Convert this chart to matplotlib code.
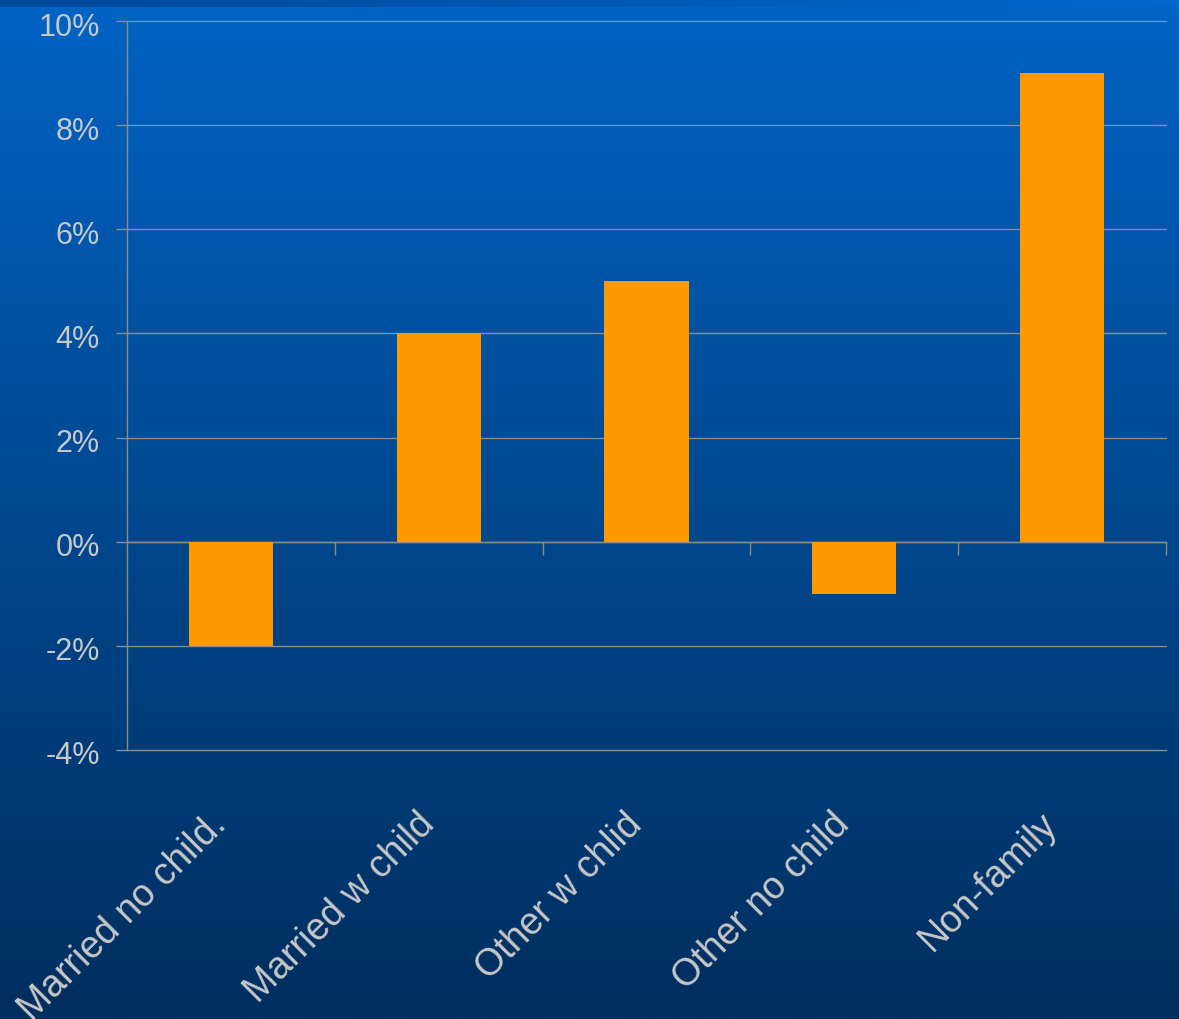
import numpy as np
import matplotlib
matplotlib.use("Agg")
import matplotlib.pyplot as plt
import matplotlib.transforms as mtransforms
from matplotlib.colors import LinearSegmentedColormap

# Change in share of households by type
categories = ["Married no child.", "Married w child", "Other w chlid", "Other no child", "Non-family"]
change_pct = [-2, 4, 5, -1, 9]
y_ticks = [-4, -2, 0, 2, 4, 6, 8, 10]
y_tick_labels = [f"{v}%" for v in y_ticks]

W, H, DPI = 1179, 1020, 100
PX = 72 / DPI  # points per pixel

plt.rcParams["font.family"] = ["Liberation Sans", "DejaVu Sans"]

fig = plt.figure(figsize=(W / DPI, H / DPI), dpi=DPI)

# slide-style vertical blue gradient background
bg = fig.add_axes([0, 0, 1, 1], zorder=-10)
grad = np.linspace(0, 1, 512).reshape(-1, 1)
bg_cmap = LinearSegmentedColormap.from_list("bg", ["#0063c4", "#00488f", "#002e5e"])
bg.imshow(grad, aspect="auto", cmap=bg_cmap, extent=[0, 1, 0, 1], origin="upper")
# thin band along the top edge, darker on the left
band = np.linspace(0, 1, 256).reshape(1, -1)
band_cmap = LinearSegmentedColormap.from_list("band", ["#00489a", "#0068cc"])
bg.imshow(band, aspect="auto", cmap=band_cmap, extent=[0, 1, 1 - 8 / H, 1], origin="upper")
bg.set_xlim(0, 1)
bg.set_ylim(0, 1)
bg.axis("off")

grid_col = "#8c8c8c"
text_col = "#c8c8c8"

ax = fig.add_axes([127 / W, 1 - 751 / H, (1166 - 127) / W, (751 - 22) / H])
ax.patch.set_alpha(0)

x = np.arange(len(categories))
ax.bar(x, change_pct, width=0.405, color="#ff9900", zorder=3)

ax.set_xlim(-0.5, len(categories) - 0.5)
ax.set_ylim(y_ticks[0], y_ticks[-1])
ax.set_yticks(y_ticks)
ax.set_yticklabels(y_tick_labels)
ax.grid(axis="y", color=grid_col, lw=1.4 * PX)
ax.set_axisbelow(True)
for gl in ax.get_ygridlines():
    gl.set_clip_on(False)

for s in ["top", "right"]:
    ax.spines[s].set_visible(False)
ax.spines["left"].set_color(grid_col)
ax.spines["left"].set_linewidth(1.4 * PX)
ax.spines["bottom"].set_position(("data", 0))
ax.spines["bottom"].set_color(grid_col)
ax.spines["bottom"].set_linewidth(1.4 * PX)

# category boundary ticks hanging below the zero line
ax.set_xticks(np.arange(0.5, len(categories), 1.0))
ax.tick_params(axis="x", length=13 * PX, width=1.4 * PX, color=grid_col, labelbottom=False)
ax.tick_params(axis="y", length=11 * PX, width=1.4 * PX, color=grid_col,
               labelsize=22, labelcolor=text_col, pad=17 * PX)

# nudge the value labels slightly below their gridlines
shift = mtransforms.ScaledTranslation(1 / DPI, -2 / DPI, fig.dpi_scale_trans)
for lbl in ax.get_yticklabels():
    lbl.set_transform(lbl.get_transform() + shift)

# rotated category labels below the plot area
for xi, lab in zip(x, categories):
    ax.annotate(lab, xy=(xi, 0), xycoords=ax.get_xaxis_transform(),
                xytext=(-3 * PX, -75 * PX), textcoords="offset points",
                rotation=45, rotation_mode="anchor", ha="right", va="baseline",
                fontsize=27, color=text_col)

fig.savefig("out.png", dpi=DPI)
